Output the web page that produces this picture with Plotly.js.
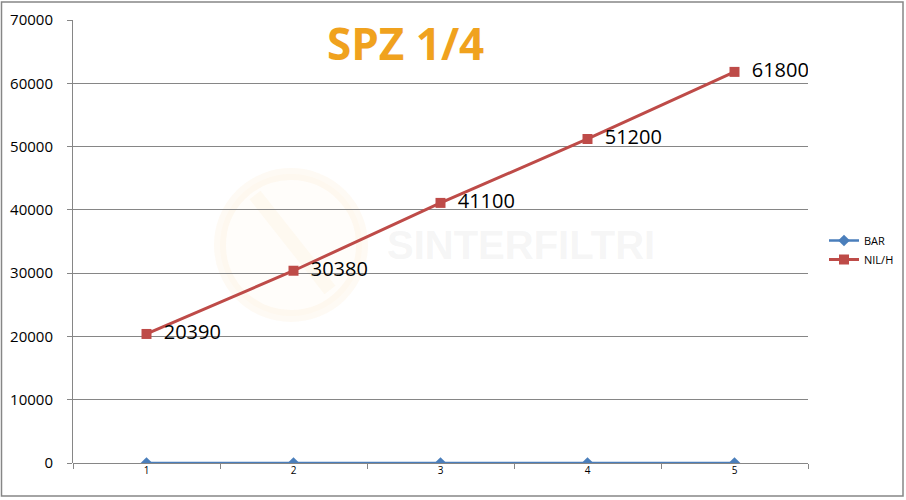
<!DOCTYPE html>
<html>
<head>
<meta charset="utf-8">
<script src="https://cdn.plot.ly/plotly-3.0.1.min.js"></script>
<style>html,body{margin:0;padding:0;background:#fff;}#chart{width:906px;height:500px;}</style>
</head>
<body>
<div id="chart"></div>
<script>
var categories = ['1', '2', '3', '4', '5'];
var barValues = [0, 0, 0, 0, 0];
var nilValues = [20390, 30380, 41100, 51200, 61800];
var yTicks = [0, 10000, 20000, 30000, 40000, 50000, 60000, 70000];
var seriesNames = ['BAR', 'NIL/H'];
var chartTitle = 'SPZ 1/4';
var watermarkText = 'SINTERFILTRI';

var L = 73, R = 808, T = 20, B = 463, W = 906, H = 500;
function px(x) { return (x - L) / (R - L); }
function py(y) { return (B - y) / (B - T); }

var traces = [
  {
    x: categories, y: barValues, name: seriesNames[0], type: 'scatter', mode: 'lines+markers',
    line: {color: '#4A7EBB', width: 2.5},
    marker: {symbol: 'diamond', size: 9, color: '#4A7EBB'},
    hoverinfo: 'x+y'
  },
  {
    x: categories, y: nilValues, name: seriesNames[1], type: 'scatter', mode: 'lines+markers+text',
    line: {color: '#BE4B48', width: 3},
    marker: {symbol: 'square', size: 10, color: '#BE4B48'},
    text: nilValues.map(function (v) { return '\u2002' + v; }), textposition: 'middle right',
    textfont: {family: 'Open Sans, sans-serif', size: 20, color: '#000'},
    hoverinfo: 'x+y'
  }
];

var layout = {
  width: W, height: H,
  margin: {l: L, r: W - R, t: T, b: H - B, pad: 0, autoexpand: false},
  paper_bgcolor: '#fff', plot_bgcolor: 'rgba(0,0,0,0)',
  showlegend: true,
  legend: {
    x: px(824), xanchor: 'left', y: py(250), yanchor: 'middle',
    font: {family: 'Open Sans, sans-serif', size: 11, color: '#000'},
    bgcolor: 'rgba(0,0,0,0)', itemwidth: 30, tracegroupgap: 8
  },
  xaxis: {
    type: 'category', range: [-0.5, 4.5],
    showgrid: false, zeroline: false, showline: false,
    ticks: 'outside', tickson: 'boundaries', ticklen: 5, tickcolor: '#868686',
    tickfont: {family: 'Open Sans, sans-serif', size: 10, color: '#000'},
    fixedrange: true
  },
  yaxis: {
    range: [0, 70000], tickmode: 'array', tickvals: yTicks,
    ticktext: yTicks.map(String),
    showgrid: true, gridcolor: '#868686', gridwidth: 1,
    zeroline: true, zerolinecolor: '#868686', zerolinewidth: 1,
    showline: true, linecolor: '#868686', linewidth: 1,
    ticks: 'outside', ticklen: 5, tickcolor: '#868686', ticklabelstandoff: 11,
    tickfont: {family: 'Open Sans, sans-serif', size: 15, color: '#000'},
    fixedrange: true
  },
  shapes: [
    {type: 'rect', xref: 'paper', yref: 'paper', x0: px(1.5), x1: px(903), y0: py(496), y1: py(2),
     line: {color: '#868686', width: 1.5}, fillcolor: 'rgba(0,0,0,0)', layer: 'below'},
    {type: 'circle', xref: 'paper', yref: 'paper', x0: px(220), x1: px(362), y0: py(316), y1: py(174),
     line: {color: 'rgba(245,170,60,0.06)', width: 12}, fillcolor: 'rgba(245,170,60,0.025)', layer: 'below'},
    {type: 'line', xref: 'paper', yref: 'paper', x0: px(255), x1: px(330), y0: py(195), y1: py(290),
     line: {color: 'rgba(245,170,60,0.05)', width: 14}, layer: 'below'}
  ],
  annotations: [
    {text: '<b>' + chartTitle + '</b>', xref: 'paper', yref: 'paper', x: px(405), y: py(43),
     xanchor: 'center', yanchor: 'middle', showarrow: false,
     font: {family: 'Open Sans, sans-serif', size: 44, color: '#F0A21E'}},
    {text: '<b>' + watermarkText + '</b>', xref: 'paper', yref: 'paper', x: px(521), y: py(245),
     xanchor: 'center', yanchor: 'middle', showarrow: false,
     font: {family: 'Liberation Sans, Arial, sans-serif', size: 40, color: 'rgba(190,190,190,0.15)'}}
  ]
};

Plotly.newPlot('chart', traces, layout, {displayModeBar: false, staticPlot: true});
</script>
</body>
</html>
